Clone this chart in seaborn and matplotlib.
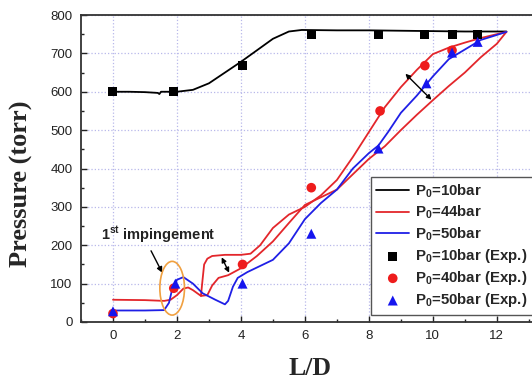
import matplotlib
matplotlib.use('Agg')
import matplotlib.pyplot as plt
import seaborn as sns
from matplotlib.patches import Ellipse
from matplotlib.ticker import MultipleLocator

# curve data
black_x = [0, 0.5, 1.0, 1.4, 1.45, 1.5, 2.0, 2.5, 3.0, 3.5, 4.0, 4.5, 5.0, 5.5, 5.9, 7, 8, 9, 10, 11, 12.3]
black_y = [600, 600, 599, 597, 594, 600, 600, 605, 622, 650, 678, 708, 738, 757, 761, 760, 760, 759, 758, 757, 757]

red_up_x = [0, 1.0, 1.6, 1.8, 2.0, 2.2, 2.35, 2.5, 2.75, 2.8, 2.85, 2.95, 3.1, 3.5, 4.0, 4.3, 4.6, 5.0, 5.5, 6.0,
            6.5, 7.0, 7.5, 8.0, 8.5, 9.0, 9.5, 10.0, 10.5, 11.0, 11.5, 12.0, 12.3]
red_up_y = [58, 57, 55, 58, 70, 87, 90, 83, 68, 110, 150, 165, 172, 175, 175, 178, 200, 245, 280, 300,
            330, 370, 430, 495, 560, 612, 657, 698, 715, 728, 740, 750, 756]

red_lo_x = [2.75, 2.95, 3.1, 3.3, 3.6, 4.0, 4.5, 5.0, 5.5, 6.0, 6.5, 7.0, 7.5, 8.0, 8.5, 9.0, 9.5, 10.0,
            10.5, 11.0, 11.5, 12.0, 12.3]
red_lo_y = [68, 70, 95, 115, 122, 140, 172, 210, 258, 305, 325, 345, 385, 425, 458, 500, 540, 578,
            615, 650, 690, 725, 756]

blue_x = [0, 1.0, 1.6, 1.75, 1.85, 2.0, 2.2, 2.5, 2.8, 3.2, 3.5, 3.6, 3.75, 3.9, 4.2, 4.6, 5.0, 5.5, 6.0,
          6.5, 7.0, 7.5, 8.0, 8.3, 8.6, 9.0, 9.5, 10.0, 10.5, 11.0, 11.5, 12.0, 12.3]
blue_y = [30, 30, 31, 50, 85, 110, 117, 100, 75, 58, 46, 55, 92, 115, 130, 146, 162, 205, 268,
          310, 345, 400, 440, 460, 495, 545, 590, 640, 685, 710, 735, 748, 756]

# experimental points
sq_x = [0, 1.9, 4.05, 6.2, 8.3, 9.75, 10.6, 11.4]
sq_y = [600, 600, 668, 750, 750, 750, 750, 750]
circ_x = [0, 1.9, 4.05, 6.2, 8.35, 9.75, 10.6]
circ_y = [22, 88, 150, 350, 550, 668, 708]
tri_x = [0, 1.95, 4.05, 6.2, 8.3, 9.8, 10.6, 11.4]
tri_y = [28, 100, 100, 230, 452, 622, 702, 730]

RED = '#e3262b'
BLUE = '#1f1fe6'

sns.set_style('ticks')
plt.rcParams['font.family'] = ['Liberation Sans', 'DejaVu Sans']
plt.rcParams['mathtext.default'] = 'regular'

fig = plt.figure(figsize=(5.32, 3.78), dpi=100)
ax = fig.add_axes([81/532, 56/378, 451/532, 307/378])

sns.lineplot(x=black_x, y=black_y, color='black', lw=1.3, sort=False, label=r'P$_0$=10bar', ax=ax)
sns.lineplot(x=red_up_x, y=red_up_y, color=RED, lw=1.3, sort=False, label=r'P$_0$=44bar', ax=ax)
sns.lineplot(x=red_lo_x, y=red_lo_y, color=RED, lw=1.3, sort=False, ax=ax)
sns.lineplot(x=blue_x, y=blue_y, color=BLUE, lw=1.3, sort=False, label=r'P$_0$=50bar', ax=ax)
sns.scatterplot(x=sq_x, y=sq_y, marker='s', color='black', s=42, edgecolor='none',
                label=r'P$_0$=10bar (Exp.)', ax=ax, zorder=5)
sns.scatterplot(x=circ_x, y=circ_y, marker='o', color='#ee1c1c', s=48, edgecolor='none',
                label=r'P$_0$=40bar (Exp.)', ax=ax, zorder=5)
sns.scatterplot(x=tri_x, y=tri_y, marker='^', color='#1515ee', s=52, edgecolor='none',
                label=r'P$_0$=50bar (Exp.)', ax=ax, zorder=5)

ax.set_xlim(-1, 13.1)
ax.set_ylim(0, 800)
ax.xaxis.set_major_locator(MultipleLocator(2))
ax.xaxis.set_minor_locator(MultipleLocator(1))
ax.yaxis.set_major_locator(MultipleLocator(100))
ax.yaxis.set_minor_locator(MultipleLocator(50))
ax.tick_params(which='both', direction='in', labelsize=9.5, width=1.0, colors='#222222')
ax.tick_params(which='major', length=4, pad=6)
ax.tick_params(which='minor', length=2.5)
ax.grid(True, which='major', linestyle=':', color='#b8b8ea', lw=0.9)
ax.spines['right'].set_visible(False)
for s in ['left', 'bottom', 'top']:
    ax.spines[s].set_linewidth(1.3)
    ax.spines[s].set_color('#333333')

ax.set_xlabel('L/D', family='Liberation Serif', fontweight='bold', fontsize=18.5)
ax.set_ylabel('Pressure (torr)', family='Liberation Serif', fontweight='bold', fontsize=19)
ax.xaxis.label.set_va('center')
ax.xaxis.set_label_coords(0.508, -0.15)
ax.yaxis.set_label_coords(-0.106, 0.45)

# annotations
ax.add_patch(Ellipse((1.85, 88), 0.77, 140, fill=False, edgecolor='#f0a040', lw=1.2, zorder=6))
ax.annotate('', xy=(1.58, 122), xytext=(1.15, 192),
            arrowprops=dict(arrowstyle='-|>', color='black', lw=1.0, mutation_scale=8))
ax.text(-0.38, 228, r'1$^{st}$ impingement', fontsize=10.5, fontweight='bold', va='center', color='#222222')
ax.annotate('', xy=(3.67, 122), xytext=(3.36, 175),
            arrowprops=dict(arrowstyle='<|-|>', color='black', lw=1.0, mutation_scale=7))
ax.annotate('', xy=(10.02, 574), xytext=(9.08, 652),
            arrowprops=dict(arrowstyle='<|-|>', color='black', lw=1.0, mutation_scale=7))

leg = ax.legend(loc='upper left', bbox_to_anchor=(371/532, 1 - 177/378), bbox_transform=fig.transFigure,
                borderaxespad=0, fancybox=False, framealpha=1, edgecolor='#555555',
                prop={'weight': 'bold', 'size': 10.8}, handlelength=2.2, labelspacing=0.28,
                handletextpad=0.4, borderpad=0.35)
leg.get_frame().set_linewidth(1.0)

fig.savefig('out.png', dpi=100)
